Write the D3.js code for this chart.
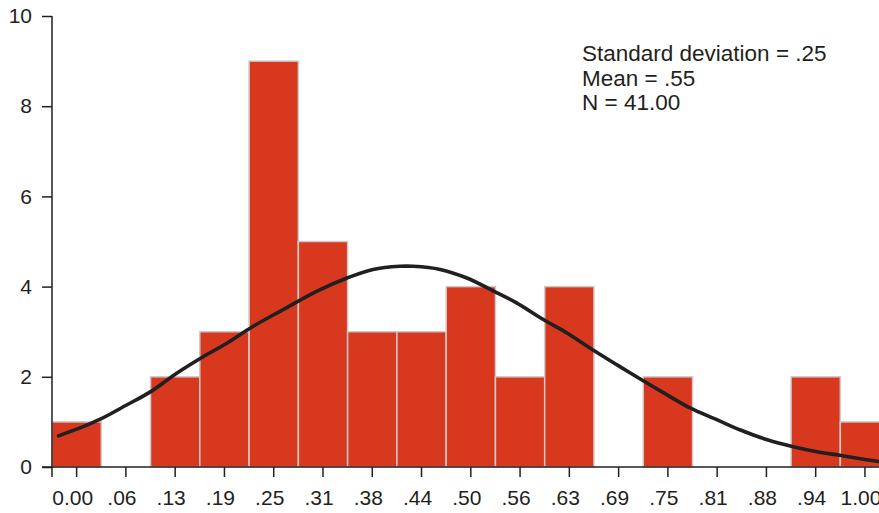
<!DOCTYPE html>
<html><head><meta charset="utf-8">
<script src="https://cdn.jsdelivr.net/npm/d3@7"></script>
<style>
html,body{margin:0;padding:0;background:#fff;overflow:hidden}
svg{display:block;font-family:"Liberation Sans",Arial,sans-serif}
</style></head>
<body><svg id="c" width="879" height="513"></svg>
<script>
// Data
const categories = ["0.00",".06",".13",".19",".25",".31",".38",".44",".50",".56",".63",".69",".75",".81",".88",".94","1.00"];
const counts = [1,0,2,3,9,5,3,3,4,2,4,0,2,0,0,2,1];
const yTicks = [0,2,4,6,8,10];
// fitted normal curve, traced: x in data units (bin centres at i/16), y in counts
const curveX = [-0.023,0.009,0.030,0.064,0.093,0.127,0.161,0.190,0.224,0.262,0.305,0.343,0.376,0.410,0.427,0.461,0.495,0.529,0.558,0.592,0.622,0.651,0.685,0.715,0.749,0.778,0.812,0.842,0.875,0.909,0.939,0.968,0.998,1.017];
const curveY = [0.69,0.90,1.06,1.38,1.66,2.08,2.45,2.74,3.12,3.49,3.90,4.19,4.38,4.45,4.45,4.38,4.19,3.90,3.64,3.27,2.97,2.64,2.27,1.95,1.60,1.31,1.05,0.82,0.61,0.45,0.34,0.26,0.17,0.12];
const stats = ["Standard deviation = .25","Mean = .55","N = 41.00"];

const svg = d3.select("#c");
const ink = "#231f20";
const x0 = 52, x1 = 889.6, yTop = 16, yBot = 467;

const x = d3.scaleBand().domain(categories).range([x0, x1]).padding(0);
const xv = d3.scaleLinear().domain([-1/32, 1 + 1/32]).range([x0, x1]);
const y = d3.scaleLinear().domain([0, 10]).range([yBot, yTop]);

// bars
svg.append("g").selectAll("rect")
  .data(counts.map((v,i)=>({c:categories[i], v})).filter(d=>d.v>0))
  .join("rect")
  .attr("x", d=>x(d.c))
  .attr("y", d=>y(d.v))
  .attr("width", x.bandwidth())
  .attr("height", d=>y(0)-y(d.v))
  .attr("fill", "#d8391e")
  .attr("stroke", "#cfcaca")
  .attr("stroke-width", 1.5);

// curve
const pts = curveX.map((v,i)=>[v, curveY[i]]);
svg.append("path")
  .attr("d", d3.line().x(d=>xv(d[0])).y(d=>y(d[1])).curve(d3.curveCatmullRom)(pts))
  .attr("fill","none").attr("stroke", ink).attr("stroke-width", 3.6)
  .attr("stroke-linecap","round");

// y axis
const ya = svg.append("g").attr("transform", `translate(${x0},0)`)
  .call(d3.axisLeft(y).tickValues(yTicks).tickFormat(d3.format("d")).tickSize(10).tickSizeOuter(0).tickPadding(10));
ya.select(".domain").remove();
ya.selectAll("line").attr("stroke", ink).attr("stroke-width", 1.5);
ya.selectAll("text").attr("font-size", 21).attr("fill", ink).attr("font-family","Liberation Sans, Arial, sans-serif");
svg.append("line").attr("x1", x0).attr("x2", x0).attr("y1", y(10)).attr("y2", yBot + 10)
  .attr("stroke", ink).attr("stroke-width", 1.5);

// x axis
const xa = svg.append("g").attr("transform", `translate(0,${yBot})`)
  .call(d3.axisBottom(x).tickSize(10).tickSizeOuter(0).tickPadding(13));
xa.select(".domain").remove();
xa.selectAll("line").attr("stroke", ink).attr("stroke-width", 1.5);
xa.selectAll("text").attr("font-size", 21).attr("fill", ink).attr("dx", -4)
  .attr("font-family","Liberation Sans, Arial, sans-serif");
svg.append("line").attr("x1", x0 - 10).attr("x2", 879).attr("y1", yBot).attr("y2", yBot)
  .attr("stroke", ink).attr("stroke-width", 1.5);

// stats text
svg.append("g").selectAll("text").data(stats).join("text")
  .attr("x", 582).attr("y", (d,i)=>61 + i*24.5)
  .attr("font-size", 22.5).attr("fill", ink).text(d=>d);
</script></body></html>
